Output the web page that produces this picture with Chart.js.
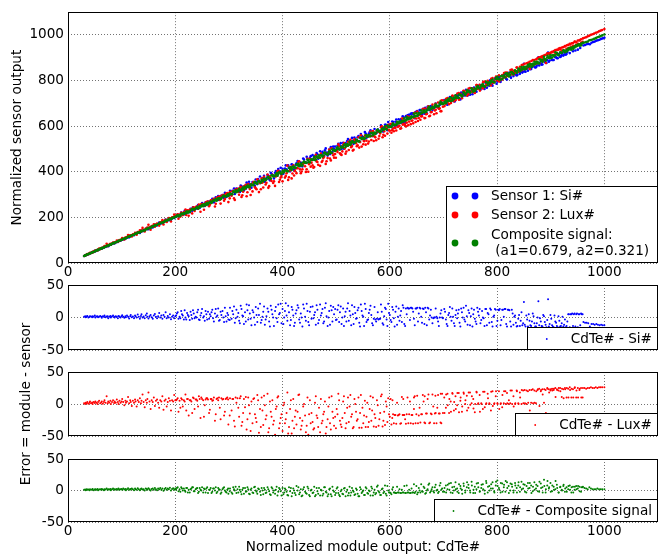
<!DOCTYPE html>
<html>
<head>
<meta charset="utf-8">
<script src="https://cdn.jsdelivr.net/npm/chart.js@4.4.1/dist/chart.umd.min.js"></script>
<style>
html,body{margin:0;padding:0;background:#fff;}
#wrap{position:relative;width:668px;height:559px;}
canvas{position:absolute;left:0;top:0;}
</style>
</head>
<body>
<div id="wrap">
<canvas id="c1" width="668" height="559"></canvas>
<canvas id="c2" width="668" height="559"></canvas>
<canvas id="c3" width="668" height="559"></canvas>
<canvas id="c4" width="668" height="559"></canvas>
</div>
<script>
// ---------- DATA (module output CdTe#, error = sensor - module) ----------
const xTicks = [0, 200, 400, 600, 800, 1000];
const topYTicks = [0, 200, 400, 600, 800, 1000];
const errYTicks = [-50, 0, 50];

const seriesNames = ["Sensor 1: Si#", "Sensor 2: Lux#", "Composite signal:", " (a1=0.679, a2=0.321)"];
const errNames = ["CdTe# - Si#", "CdTe# - Lux#", "CdTe# - Composite signal"];

const errSi = [
[30,1],[32,2],[33,0.5],[35,1.5],[36,2.5],[38,0],[40,1],[41,2],[43,1.5],[45,0.5],[46,2],[48,1],[50,3],[51,0],[53,1.5],[55,2],[56,0.5],[58,1],[60,2.5],[62,1],[63,-0.5],[65,2],[67,1],[68,3],[70,0.5],[72,1.5],[74,2],[75,-1],[77,1],[79,2.5],[80,0],[82,1.5],[84,3],[86,1],[87,0],[89,2],[91,1],[93,-1],[94,2.5],[96,1.5],[98,0],[100,2],[101,3.5],[103,1],[105,-0.5],[107,2],[108,0.5],[110,3],[112,1],[114,-1.5],[116,2],[117,4],[119,0.5],[121,1.5],[123,-1],[125,3],[126,2],[128,0],[130,4.5],[132,1],[134,-2],[136,2.5],[137,5],[139,0],[141,1.5],[143,-1],[145,3.5],[147,6],[148,1],[150,-1.5],[152,2],[154,4],[156,0.5],[158,-2],[160,3],[162,5.5],[164,1],[166,-1],[168,2],[170,7],[172,0],[174,3],[176,-2],[178,4],[180,1],[182,8],[184,-1],[186,2.5],[188,0],[190,5],[192,-2.5],[194,1],[196,3],[198,-1],[200,2],
[203,6],[206,-2],[208,1],[211,10],[214,3],[216,-3],[219,0],[222,7],[225,2],[227,-4],[230,4],[233,11],[236,-1],[238,1],[241,8],[244,-3],[247,3],[250,13],[252,0],[255,-5],[258,5],[261,9],[263,-2],[266,2],[269,12],[272,-6],[274,6],[277,1],[280,14],[283,-4],[286,4],[288,10],[291,-7],[294,2],[297,7],[299,-3],
[302,15],[305,-2],[308,5],[311,-8],[314,12],[316,1],[319,-5],[322,18],[325,3],[328,-10],[330,8],[333,20],[336,-3],[339,6],[342,-12],[344,11],[347,0],[350,16],[353,-7],[356,4],[358,21],[361,-4],[364,9],[367,-11],[370,2],[372,14],[375,-6],[378,18],[381,5],[384,-13],[386,10],[389,-1],[392,20],[395,7],[398,-9],[400,13],[403,0],[406,22],[409,-5],[412,8],[414,-12],[417,16],[420,3],[423,-8],[426,11],[428,19],[431,-3],[434,6],[437,-14],[440,14],[442,1],[445,21],[448,-7],[451,9],[454,-2],[456,17],[459,4],[462,-11],[465,12],[468,-4],[470,20],[473,7],[476,-9],[479,15],[482,2],[484,-13],[487,10],[490,18],[493,-6],[496,5],[498,13],
[501,-3],[504,19],[507,8],[510,-10],[513,14],[516,2],[519,-6],[522,22],[525,10],[528,-12],[531,5],[534,16],[537,-2],[540,11],[543,-8],[546,20],[549,3],[552,-13],[555,13],[558,-4],[561,7],[564,18],[567,-9],[570,-2],[573,-3],[576,-2],[579,-3],[582,-2],[585,9],[588,-11],[591,15],[594,-3],[597,21],[600,4],[603,-7],[606,12],[609,-14],[612,17],[615,1],[618,-5],[621,10],[624,19],[627,-10],[630,14],[633,15],[636,14],[639,15],[642,14],[645,-2],[648,14],[651,15],[654,6],[657,14],[660,-8],[663,13],[666,15],[669,-12],[672,14],[675,3],[678,0],[681,-1],[684,0],[687,1],[690,-6],[693,0],[696,11],[699,-1],
[703,9],[706,-10],[709,4],[712,16],[715,-5],[718,1],[721,-13],[724,11],[727,6],[730,-8],[733,14],[736,0],[739,-3],[742,18],[745,-11],[748,7],[751,2],[754,-14],[757,12],[760,-6],[763,15],[766,3],[769,-9],[772,10],[775,-1],[778,13],[781,-12],[784,5],[787,14],[790,-7],[793,1],[796,13],[799,-13],[802,12],[805,13],[808,-4],[811,12],[814,13],[817,-10],[820,12],[823,11],[826,-14],[829,6],[832,1],[835,-8],[838,-13],[841,4],[844,-5],[847,-12],[850,24],
[853,-14],[856,-3],[859,5],[862,-12],[865,-6],[868,2],[871,-14],[874,-9],[877,25],[880,-1],[883,-13],[886,4],[889,-7],[892,-15],[895,28],[898,-10],[901,-2],[904,-14],[907,3],[910,-8],[913,-15],[916,-5],[919,-13],[922,1],[925,-11],[928,-15],[931,-6],[934,5],[937,5],[940,6],[943,5],[946,-14],[949,6],[952,5],[955,-12],[958,5],[961,-7],[964,-8],[967,-8],[970,-9],[973,-14],[976,-10],[979,-10],[982,-11],[985,-10],[988,-11],[991,-12],[994,-11],[997,-12],[1000,-12]
];
const errSiMore = [
[201.5,3],[204.5,8],[209.5,-1],[212.5,5],[217.5,11],[220.5,-3],[223.5,4],[228.5,9],[231.5,-2],[234.5,6],[239.5,0],[242.5,12],[245.5,-4],[248.5,7],[253.5,2],[256.5,10],[259.5,-3],[264.5,5],[267.5,8],[270.5,-1],[275.5,13],[278.5,3],[281.5,-5],[284.5,9],[289.5,0],[292.5,15],[295.5,-6],[298.5,4],
[301.5,-4],[306.5,10],[309.5,17],[312.5,-1],[317.5,7],[320.5,-9],[323.5,13],[326.5,2],[331.5,-6],[334.5,11],[337.5,19],[340.5,-2],[345.5,8],[348.5,-11],[351.5,4],[354.5,14],[359.5,-8],[362.5,1],[365.5,17],[368.5,-3],[373.5,9],[376.5,-14],[379.5,12],[382.5,0],[387.5,16],[390.5,-7],[393.5,5],[396.5,21],[401.5,-10],[404.5,10],[407.5,3],[410.5,18],[415.5,-4],[418.5,12],[421.5,-13],[424.5,6],[429.5,15],[432.5,-8],[435.5,0],[438.5,20],[443.5,-5],[446.5,10],[449.5,-12],[452.5,16],[457.5,-1],[460.5,8],[463.5,19],[466.5,-9],[471.5,3],[474.5,13],[477.5,-6],[480.5,22],[485.5,0],[488.5,-11],[491.5,11],[494.5,16],[499.5,-4],
[502.5,12],[505.5,-7],[508.5,17],[511.5,0],[514.5,-13],[517.5,9],[520.5,14],[523.5,-5],[526.5,3],[529.5,19],[532.5,-10],[535.5,7],[538.5,-1],[541.5,15],[544.5,-14],[547.5,10],[550.5,1],[553.5,21],[556.5,-7],[559.5,-3],[562.5,12],[565.5,4],[568.5,-12],[571.5,16],[574.5,-6],[577.5,8],[580.5,-2],[583.5,20],[586.5,-9],[589.5,2],[592.5,13],[595.5,-13],[598.5,7],[601.5,-4],[604.5,16],[607.5,-1],[610.5,9],[613.5,-11],[616.5,14],[619.5,3],[622.5,-7],[625.5,15],[628.5,-13],[631.5,5],[634.5,14],[637.5,-4],[640.5,15],[643.5,9],[646.5,-12],[649.5,14],[652.5,-6],[655.5,15],[658.5,1],[661.5,14],[664.5,-10],[667.5,8],[670.5,15],[673.5,-3],[676.5,12],[679.5,-9],[682.5,0],[685.5,14],[688.5,-1],[691.5,-13],[694.5,6],[697.5,0],
[701.5,13],[704.5,-3],[707.5,-13],[710.5,7],[713.5,1],[716.5,14],[719.5,-9],[722.5,4],[725.5,-1],[728.5,12],[731.5,-14],[734.5,8],[737.5,15],[740.5,-6],[743.5,2],[746.5,11],[749.5,-12],[752.5,14],[755.5,5],[758.5,-2],[761.5,-10],[764.5,9],[767.5,13],[770.5,-4],[773.5,0],[776.5,-13],[779.5,13],[782.5,7],[785.5,-8],[788.5,12],[791.5,-14],[794.5,3],[797.5,12],[800.5,-5],[803.5,11],[806.5,-12],[809.5,12],[812.5,1],[815.5,13],[818.5,-14],[821.5,12],[824.5,-6],[827.5,12],[830.5,-11],[833.5,3],[836.5,-14],[839.5,-2],[842.5,-13],[845.5,8],[848.5,-9],
[851.5,-11],[854.5,3],[857.5,-14],[860.5,-5],[863.5,-13],[866.5,6],[869.5,-9],[872.5,-14],[875.5,0],[878.5,-12],[881.5,-6],[884.5,-14],[887.5,2],[890.5,-11],[893.5,-4],[896.5,-14],[899.5,4],[902.5,-12],[905.5,-15],[908.5,-6],[911.5,-13],[914.5,2],[917.5,-14],[920.5,-9],[923.5,-14],[926.5,-3],[929.5,-13],[932.5,5],[935.5,-15],[938.5,5],[941.5,-13],[944.5,6],[947.5,5],[950.5,-15],[953.5,5],[956.5,6],[959.5,5]
];

const errLux = [
[30,1],[32,0],[33,2],[35,1],[36,3],[38,0.5],[40,2],[41,4],[43,1],[45,2.5],[46,0],[48,3],[50,1.5],[51,4],[53,2],[55,0],[56,3],[58,5],[60,1],[62,2.5],[63,4],[65,0.5],[67,3],[68,6],[70,2],[72,12],[74,1],[75,4],[77,2.5],[79,5],[80,0],[82,3],[84,6],[86,1.5],[87,4],[89,2],[91,7],[93,3],[94,0],[96,5],[98,2],[100,4],[101,8],[103,3],[105,-2],[107,5],[108,2],[110,4],[112,11],[114,1],[116,6],[117,3],[119,-3],[121,5],[123,2],[125,7],[126,4],[128,-4],[130,6],[132,3],[134,9],[136,1],[137,5],[139,15],[141,3],[143,-5],[145,6],[147,2],[148,8],[150,18],[152,4],[154,-8],[156,6],[158,3],[160,10],[162,-3],[164,5],[166,7],[168,2],[170,-6],[172,6],[174,4],[176,12],[178,-9],[180,5],[182,7],[184,-4],[186,3],[188,9],[190,5],[192,-10],[194,6],[196,4],[198,14],[200,6],
[203,7],[206,-12],[208,5],[211,9],[214,-4],[216,6],[219,15],[222,8],[225,-18],[227,6],[230,4],[233,10],[236,-8],[238,7],[241,5],[244,12],[247,-22],[250,8],[252,6],[255,-2],[258,9],[261,7],[263,-14],[266,8],[269,5],[272,10],[274,-26],[277,8],[280,6],[283,-6],[286,9],[288,7],[291,-18],[294,8],[297,10],[299,-32],
[302,9],[305,-10],[308,8],[311,-35],[314,2],[316,9],[319,-20],[322,12],[325,-28],[328,8],[330,-5],[333,-40],[336,10],[339,-15],[342,4],[344,-30],[347,9],[350,-22],[353,14],[356,-45],[358,-8],[361,10],[364,-33],[367,-2],[370,-18],[372,16],[375,-38],[378,-12],[381,6],[384,-26],[386,-48],[389,-4],[392,12],[395,-30],[398,-16],[400,-42],[403,2],[406,-24],[409,18],[412,-36],[414,-8],[417,-46],[420,8],[423,-20],[426,-32],[428,-12],[431,15],[434,-40],[437,-26],[440,0],[442,-18],[445,-34],[448,-48],[451,6],[454,-14],[456,-28],[459,-38],[462,12],[465,-22],[468,-6],[470,-44],[473,-30],[476,-16],[479,4],[482,-36],[484,-24],[487,10],[490,-40],[493,-12],[496,-34],[498,-20],
[501,-8],[504,16],[507,-26],[510,-36],[513,4],[516,-14],[519,-30],[522,10],[525,-4],[528,-20],[531,-38],[534,8],[537,-12],[540,-24],[543,-37],[546,14],[549,-6],[552,-18],[555,-36],[558,2],[561,-28],[564,12],[567,-10],[570,-35],[573,-22],[576,6],[579,-34],[582,-14],[585,15],[588,-26],[591,-33],[594,-4],[597,9],[600,-20],[603,-32],[605,6],[606,-16],[609,-17],[612,-31],[615,-18],[618,-16],[621,-30],[624,-17],[625,8],[627,-17],[630,-31],[633,10],[636,-16],[639,-30],[642,-17],[645,-8],[645,10],[648,-30],[651,13],[654,-18],[657,-29],[660,-16],[663,4],[665,12],[666,-30],[669,-15],[672,15],[675,-29],[678,-16],[681,-4],[684,-15],[685,13],[687,-30],[690,14],[693,-15],[695,16],[696,-30],[699,-14],
[702,-14],[705,15],[708,-2],[711,8],[714,-12],[717,16],[720,3],[723,-8],[726,17],[729,-13],[732,10],[735,-4],[738,16],[741,6],[744,-10],[747,18],[750,-1],[753,12],[756,-7],[759,0],[762,18],[765,1],[768,-12],[771,0],[774,19],[777,-5],[780,1],[783,9],[786,0],[789,19],[792,-3],[795,1],[798,20],[801,0],[804,-8],[807,1],[810,14],[813,20],[816,0],[819,1],[822,6],[825,21],[828,0],[831,-4],[834,1],[837,20],[840,0],[843,10],[846,22],[849,1],
[852,1],[855,21],[858,2],[861,-10],[864,22],[867,1],[870,2],[873,20],[876,23],[879,-3],[882,22],[885,15],[888,23],[891,-14],[894,24],[897,18],[900,23],[903,21],[906,24],[909,11],[912,22],[915,25],[918,20],[921,24],[924,9],[927,23],[930,25],[933,10],[936,22],[939,24],[942,10],[945,26],[948,21],[951,10],[954,24],[957,10],[960,25],[963,25],[966,24],[969,25],[972,25],[975,26],[978,25],[981,25],[984,26],[987,25],[990,26],[993,26],[996,26],[1000,26]
];
const errLuxMore = [
[201.5,6],[204.5,9],[209.5,-6],[212.5,7],[217.5,4],[220.5,-10],[223.5,8],[228.5,6],[231.5,-14],[234.5,9],[239.5,7],[242.5,-4],[245.5,8],[248.5,10],[253.5,-20],[256.5,7],[259.5,9],[264.5,-9],[267.5,8],[270.5,6],[275.5,-16],[278.5,9],[281.5,10],[284.5,-24],[289.5,8],[292.5,-12],[295.5,9],[298.5,7],
[301.5,-18],[306.5,8],[309.5,-26],[312.5,10],[317.5,-6],[320.5,9],[323.5,-34],[326.5,-14],[331.5,11],[334.5,-24],[337.5,-2],[340.5,-42],[345.5,8],[348.5,-16],[351.5,-28],[354.5,6],[359.5,-36],[362.5,-10],[365.5,13],[368.5,-24],[373.5,-44],[376.5,4],[379.5,-20],[382.5,-32],[387.5,-8],[390.5,10],[393.5,-38],[396.5,-22],[401.5,-2],[404.5,-30],[407.5,-14],[410.5,-46],[415.5,6],[418.5,-26],[421.5,-38],[424.5,-10],[429.5,14],[432.5,-22],[435.5,-34],[438.5,-4],[443.5,-44],[446.5,10],[449.5,-16],[452.5,-30],[457.5,-40],[460.5,2],[463.5,-18],[466.5,-36],[471.5,8],[474.5,-26],[477.5,-12],[480.5,-46],[485.5,-4],[488.5,-30],[491.5,12],[494.5,-22],[499.5,-38],
[502.5,-16],[505.5,6],[508.5,-32],[511.5,-22],[514.5,12],[517.5,-38],[520.5,-6],[523.5,-28],[526.5,14],[529.5,-16],[532.5,-36],[535.5,0],[538.5,-26],[541.5,10],[544.5,-14],[547.5,-37],[550.5,-30],[553.5,5],[556.5,-20],[559.5,-36],[562.5,-8],[565.5,-26],[568.5,10],[571.5,-16],[574.5,-36],[577.5,-2],[580.5,-24],[583.5,12],[586.5,-35],[589.5,-12],[592.5,4],[595.5,-28],[598.5,-16],[601.5,8],[604.5,-22],[607.5,-30],[610.5,-17],[613.5,2],[616.5,-17],[619.5,-31],[622.5,11],[625.5,-17],[628.5,-24],[631.5,-16],[634.5,-30],[637.5,4],[640.5,-17],[643.5,-31],[646.5,12],[649.5,-16],[652.5,-30],[655.5,-6],[658.5,-16],[661.5,14],[664.5,-29],[667.5,-15],[670.5,8],[673.5,-30],[676.5,-15],[679.5,15],[682.5,-30],[685.5,-14],[688.5,-6],[691.5,-15],[694.5,-29],[697.5,16],
[701.5,10],[704.5,-6],[707.5,16],[710.5,-14],[713.5,4],[716.5,17],[719.5,-10],[722.5,12],[725.5,-2],[728.5,17],[731.5,5],[734.5,-12],[737.5,18],[740.5,0],[743.5,13],[746.5,-6],[749.5,18],[752.5,1],[755.5,8],[758.5,-13],[761.5,19],[764.5,0],[767.5,14],[770.5,1],[773.5,-8],[776.5,19],[779.5,0],[782.5,16],[785.5,1],[788.5,-10],[791.5,20],[794.5,0],[797.5,12],[800.5,1],[803.5,20],[806.5,0],[809.5,-5],[812.5,1],[815.5,20],[818.5,17],[821.5,0],[824.5,1],[827.5,21],[830.5,12],[833.5,0],[836.5,21],[839.5,1],[842.5,18],[845.5,0],[848.5,21],
[851.5,22],[854.5,0],[857.5,20],[860.5,22],[863.5,2],[866.5,23],[869.5,21],[872.5,1],[875.5,22],[878.5,24],[881.5,20],[884.5,23],[887.5,2],[890.5,22],[893.5,25],[896.5,23],[899.5,21],[902.5,24],[905.5,22],[908.5,25],[911.5,23],[914.5,21],[917.5,25],[920.5,11],[923.5,23],[926.5,25],[929.5,10],[932.5,24],[935.5,26],[938.5,10],[941.5,23],[944.5,25],[947.5,10],[950.5,25],[953.5,22],[956.5,25],[959.5,10]
];

const errComp = [
[30,1],[32,1.5],[33,0.5],[35,2],[36,1],[38,1.5],[40,0.5],[41,2],[43,1],[45,1.5],[46,2.5],[48,0.5],[50,1.5],[51,2],[53,1],[55,2.5],[56,0.5],[58,1.5],[60,2],[62,1],[63,2.5],[65,1.5],[67,0.5],[68,2],[70,1.5],[72,3],[74,1],[75,2],[77,1.5],[79,2.5],[80,0.5],[82,2],[84,3],[86,1],[87,2],[89,1.5],[91,2.5],[93,1],[94,3],[96,1.5],[98,2],[100,2.5],[101,1],[103,3],[105,1.5],[107,2.5],[108,0.5],[110,2],[112,3.5],[114,1],[116,2.5],[117,1.5],[119,3],[121,2],[123,0.5],[125,3],[126,2],[128,1],[130,3.5],[132,2],[134,0.5],[136,2.5],[137,3],[139,1.5],[141,2],[143,0],[145,3],[147,2.5],[148,1],[150,3.5],[152,2],[154,0],[156,2.5],[158,3],[160,1],[162,4],[164,2],[166,0.5],[168,3],[170,2],[172,4],[174,1],[176,3],[178,-0.5],[180,2.5],[182,4],[184,1],[186,3],[188,2],[190,4.5],[192,0],[194,2.5],[196,3.5],[198,1],[200,3],
[203,4],[206,-1],[208,2],[211,5],[214,0],[216,3],[219,-2],[222,4],[225,1],[227,-3],[230,3],[233,5],[236,-1],[238,2],[241,4],[244,-2],[247,1],[250,5],[252,-3],[255,2],[258,3],[261,-4],[263,1],[266,4],[269,-2],[272,3],[274,0],[277,-4],[280,4],[283,1],[286,-3],[288,2],[291,5],[294,-2],[297,1],[299,-5],[302,3],[305,-3],[308,5],[311,0],[314,-4],[316,2],[319,6],[322,-2],[325,1],[328,-5],[330,4],[333,-1],[336,2],[339,-6],[342,3],[344,-3],[347,5],[350,0],[353,-5],[356,2],[358,-2],[361,4],[364,-6],[367,1],[370,-3],[372,5],[375,-1],[378,-7],[381,3],[384,0],[386,-5],[389,6],[392,-2],[395,2],[398,-8],[400,4],
[403,-3],[406,1],[409,-7],[412,5],[414,-1],[417,-9],[420,3],[423,-4],[426,7],[428,0],[431,-6],[434,2],[437,-8],[440,5],[442,-2],[445,-5],[448,3],[451,-9],[454,1],[456,-4],[459,6],[462,-7],[465,-1],[468,4],[470,-8],[473,0],[476,-5],[479,5],[482,-3],[484,-9],[487,2],[490,-6],[493,6],[496,-2],[498,-7],[501,3],[504,-4],[507,-9],[510,1],[513,-6],[516,4],[519,-2],[522,-8],[525,6],[528,-3],[531,0],[534,-7],[537,3],[540,-5],[543,-9],[546,2],[549,-2],[552,-7],[555,5],[558,-4],[561,0],[564,-8],[567,3],[570,-3],[573,-6],[576,6],[579,-1],[582,-7],[585,2],[588,-4],[591,8],[594,-8],[597,0],[600,-3],[603,-6],[606,5],[609,-3],[612,-4],[615,-3],[618,2],[621,-4],[624,-3],[627,7],[630,-4],[633,-3],[636,1],[639,-4],[642,-3],[645,10],[648,-2],[651,-6],[654,4],[657,-3],[660,-1],[663,6],[666,-5],[669,0],[672,9],[675,-3],[678,2],[681,-1],[684,5],[687,0],[690,-4],[693,8],[696,1],[699,-2],
[702,4],[705,-3],[708,9],[711,1],[714,12],[717,-4],[720,6],[723,2],[726,-2],[729,10],[732,3],[735,-5],[738,7],[741,0],[744,13],[747,4],[750,-3],[753,8],[756,1],[759,-4],[762,11],[765,5],[768,-1],[771,9],[774,2],[777,-5],[780,12],[783,6],[786,0],[789,10],[792,3],[795,-3],[798,14],[801,7],[804,1],[807,12],[810,-2],[813,9],[816,15],[819,4],[822,-4],[825,11],[828,6],[831,0],[834,8],[837,-3],[840,13],[843,5],[846,2],[849,10],[852,-2],[855,7],[858,3],[861,12],[864,-4],[867,6],[870,1],[873,9],[876,-1],[879,14],[882,4],[885,-3],[888,7],[891,2],[894,15],[897,5],[900,-2],[903,8],[906,1],[909,15],[912,4],[915,-3],[918,6],[921,0],[924,9],[927,3],[930,-2],[933,7],[936,1],[939,5],[942,-3],[945,6],[948,2],[951,7],[954,-1],[957,5],[960,6],[963,4],[966,3],[969,2],[972,5],[975,3],[978,2],[981,2],[984,2],[987,3],[990,2],[993,2],[996,2],[1000,2]
];
const errCompMore = [
[201.5,1],[204.5,5],[209.5,-2],[212.5,3],[217.5,0],[220.5,4],[223.5,-3],[228.5,2],[231.5,5],[234.5,-1],[239.5,3],[242.5,-4],[245.5,4],[248.5,0],[253.5,3],[256.5,-3],[259.5,5],[264.5,1],[267.5,-4],[270.5,3],[275.5,5],[278.5,-2],[281.5,2],[284.5,-5],[289.5,4],[292.5,0],[295.5,-3],[298.5,3],[301.5,-1],[306.5,-5],[309.5,2],[312.5,6],[317.5,-3],[320.5,1],[323.5,-6],[326.5,4],[331.5,-2],[334.5,5],[337.5,-5],[340.5,1],[345.5,-4],[348.5,6],[351.5,-2],[354.5,3],[359.5,-7],[362.5,0],[365.5,4],[368.5,-4],[373.5,2],[376.5,-6],[379.5,5],[382.5,-3],[387.5,1],[390.5,-8],[393.5,4],[396.5,-1],
[401.5,-6],[404.5,3],[407.5,-2],[410.5,-8],[415.5,4],[418.5,-4],[421.5,0],[424.5,-7],[429.5,5],[432.5,-3],[435.5,-9],[438.5,2],[443.5,-4],[446.5,6],[449.5,-7],[452.5,0],[457.5,-3],[460.5,-9],[463.5,4],[466.5,-5],[471.5,1],[474.5,-8],[477.5,5],[480.5,-2],[485.5,-6],[488.5,3],[491.5,-9],[494.5,0],[499.5,-4],[502.5,5],[505.5,-7],[508.5,-1],[511.5,-5],[514.5,3],[517.5,-9],[520.5,1],[523.5,-4],[526.5,-8],[529.5,4],[532.5,-2],[535.5,-6],[538.5,1],[541.5,-9],[544.5,5],[547.5,-4],[550.5,0],[553.5,-7],[556.5,3],[559.5,-5],[562.5,-1],[565.5,6],[568.5,-8],[571.5,1],[574.5,-4],[577.5,8],[580.5,-3],[583.5,-7],[586.5,3],[589.5,-2],[592.5,-5],[595.5,7],[598.5,-3],[601.5,-4],[604.5,2],[607.5,-3],[610.5,-4],[613.5,6],[616.5,-3],[619.5,-4],[622.5,1],[625.5,-3],[628.5,-4],[631.5,8],[634.5,-3],[637.5,-4],[640.5,3],[643.5,-3],[646.5,-4],[649.5,7],[652.5,-3],[655.5,0],[658.5,10],[661.5,-2],[664.5,4],[667.5,-4],[670.5,2],[673.5,11],[676.5,-1],[679.5,5],[682.5,-3],[685.5,9],[688.5,1],[691.5,-2],[694.5,12],[697.5,3],
[701.5,-2],[704.5,8],[707.5,2],[710.5,11],[713.5,-3],[716.5,5],[719.5,0],[722.5,13],[725.5,3],[728.5,-4],[731.5,7],[734.5,1],[737.5,11],[740.5,-3],[743.5,5],[746.5,9],[749.5,0],[752.5,14],[755.5,-4],[758.5,6],[761.5,2],[764.5,12],[767.5,-2],[770.5,4],[773.5,10],[776.5,0],[779.5,15],[782.5,-3],[785.5,7],[788.5,3],[791.5,13],[794.5,-1],[797.5,8],[800.5,16],[803.5,4],[806.5,-3],[809.5,11],[812.5,5],[815.5,-2],[818.5,13],[821.5,7],[824.5,0],[827.5,10],[830.5,-3],[833.5,12],[836.5,4],[839.5,8],[842.5,-2],[845.5,14],[848.5,3],[851.5,9],[854.5,-3],[857.5,12],[860.5,4],[863.5,8],[866.5,-1],[869.5,13],[872.5,3],[875.5,7],[878.5,-2],[881.5,11],[884.5,5],[887.5,17],[890.5,-3],[893.5,8],[896.5,3],[899.5,12],[902.5,-1],[905.5,6],[908.5,2],[911.5,9],[914.5,-3],[917.5,5],[920.5,1],[923.5,7],[926.5,-2],[929.5,5],[932.5,2],[935.5,8],[938.5,-3],[941.5,6],[944.5,1],[947.5,7],[950.5,3],[953.5,6],[956.5,-2],[959.5,5]
];

// ---------- STYLE ----------
const FONT = "'DejaVu Sans', 'Bitstream Vera Sans', sans-serif";
const FS = 13.6;
const BLUE = '#0000ff', RED = '#ff0000', GREEN = '#008000';
const W = 668, H = 559, LEFT = 68, RIGHT_PAD = 10;
Chart.defaults.font.family = FONT;
Chart.defaults.font.size = FS;
Chart.defaults.color = '#000';

const allSi = errSi.concat(errSiMore);
const allLux = errLux.concat(errLuxMore);
const allComp = errComp.concat(errCompMore);
const toSensor = arr => arr.map(p => ({x: p[0], y: p[0] + p[1]}));
const toErr = arr => arr.map(p => ({x: p[0], y: p[1]}));

const framePlugin = {
  id: 'frame',
  afterDraw(chart) {
    const a = chart.chartArea, ctx = chart.ctx;
    ctx.save();
    ctx.strokeStyle = '#000';
    ctx.lineWidth = 1;
    ctx.strokeRect(Math.round(a.left) + 0.5, Math.round(a.top) + 0.5,
                   Math.round(a.right - a.left) - 1, Math.round(a.bottom - a.top) - 1);
    ctx.restore();
  }
};

function topLegendPlugin() {
  return {
    id: 'topLegend',
    afterDraw(chart) {
      const a = chart.chartArea, ctx = chart.ctx;
      const r = Math.round(a.right), b = Math.round(a.bottom);
      const l = r - 212, t = b - 77;
      ctx.save();
      ctx.fillStyle = '#fff';
      ctx.fillRect(l, t, r - l, b - t);
      ctx.strokeStyle = '#000'; ctx.lineWidth = 1;
      ctx.strokeRect(l + 0.5, t + 0.5, r - l - 1, b - t - 1);
      const rows = [[BLUE, t + 10], [RED, t + 29], [GREEN, t + 57]];
      rows.forEach(([c, y]) => {
        ctx.fillStyle = c;
        [l + 9, l + 29].forEach(x => { ctx.beginPath(); ctx.arc(x, y, 3.4, 0, Math.PI * 2); ctx.fill(); });
      });
      ctx.fillStyle = '#000';
      ctx.font = FS + 'px ' + FONT;
      ctx.textBaseline = 'middle'; ctx.textAlign = 'left';
      ctx.fillText(seriesNames[0], l + 45, t + 10);
      ctx.fillText(seriesNames[1], l + 45, t + 29);
      ctx.fillText(seriesNames[2], l + 45, t + 49);
      ctx.fillText(seriesNames[3], l + 45, t + 65);
      ctx.restore();
    }
  };
}

function errLegendPlugin(label, color) {
  return {
    id: 'errLegend',
    afterDraw(chart) {
      const a = chart.chartArea, ctx = chart.ctx;
      const r = Math.round(a.right), b = Math.round(a.bottom);
      ctx.save();
      ctx.font = FS + 'px ' + FONT;
      const tw = ctx.measureText(label).width;
      const tx = r - 6 - tw;
      const l = Math.round(tx - 44), t = b - 23;
      ctx.fillStyle = '#fff';
      ctx.fillRect(l, t, r - l, b - t);
      ctx.strokeStyle = '#000'; ctx.lineWidth = 1;
      ctx.strokeRect(l + 0.5, t + 0.5, r - l - 1, b - t - 1);
      ctx.fillStyle = color;
      ctx.beginPath(); ctx.arc(tx - 24, t + 12, 0.9, 0, Math.PI * 2); ctx.fill();
      ctx.fillStyle = '#000';
      ctx.textBaseline = 'middle'; ctx.textAlign = 'left';
      ctx.fillText(label, tx, t + 12);
      ctx.restore();
    }
  };
}

function makeChart(id, o) {
  return new Chart(document.getElementById(id), {
    type: 'scatter',
    data: { datasets: o.datasets },
    plugins: [framePlugin, o.legend],
    options: {
      responsive: false,
      animation: false,
      devicePixelRatio: 1,
      layout: { padding: { top: o.top, left: 0, right: RIGHT_PAD, bottom: 0 } },
      plugins: { legend: { display: false }, tooltip: { enabled: false } },
      elements: { point: { borderWidth: 0 } },
      scales: {
        x: {
          type: 'linear', min: 0, max: 1100,
          afterBuildTicks: s => { s.ticks = xTicks.map(v => ({ value: v })); },
          afterFit: s => { s.height = H - o.bottom; },
          ticks: { display: o.showX, padding: 1, maxRotation: 0, autoSkip: false, font: { size: FS }, callback: v => String(v) },
          grid: { color: 'rgba(0,0,0,0.55)', lineWidth: 1, drawTicks: false },
          border: { display: false, dash: [1, 2] },
          title: o.xTitle ? { display: true, text: o.xTitle, padding: { top: 0, bottom: 3 }, font: { size: FS } } : { display: false }
        },
        y: {
          type: 'linear', min: o.yMin, max: o.yMax,
          afterBuildTicks: s => { s.ticks = o.yTicks.map(v => ({ value: v })); },
          afterFit: s => { s.width = LEFT; },
          ticks: { padding: 4, autoSkip: false, font: { size: FS }, callback: v => String(v) },
          grid: { color: 'rgba(0,0,0,0.55)', lineWidth: 1, drawTicks: false },
          border: { display: false, dash: [1, 2] },
          title: o.yTitle ? { display: true, text: o.yTitle, padding: { top: o.yTitlePad, bottom: 0 }, font: { size: FS } } : { display: false }
        }
      }
    }
  });
}

makeChart('c1', {
  top: 6, bottom: 263, yMin: 0, yMax: 1100, yTicks: topYTicks, showX: true,
  yTitle: 'Normalized sensor output', yTitlePad: 9,
  legend: topLegendPlugin(),
  datasets: [
    { label: seriesNames[0], data: toSensor(allSi), backgroundColor: BLUE, pointRadius: 1.3, order: 3 },
    { label: seriesNames[1], data: toSensor(allLux), backgroundColor: RED, pointRadius: 1.3, order: 2 },
    { label: seriesNames[2], data: toSensor(allComp), backgroundColor: GREEN, pointRadius: 1.3, order: 1 }
  ]
});
makeChart('c2', {
  top: 285, bottom: 350, yMin: -50, yMax: 50, yTicks: errYTicks, showX: false,
  legend: errLegendPlugin(errNames[0], BLUE),
  datasets: [{ label: errNames[0], data: toErr(allSi), backgroundColor: BLUE, pointRadius: 1 }]
});
makeChart('c3', {
  top: 372, bottom: 436, yMin: -50, yMax: 50, yTicks: errYTicks, showX: false,
  yTitle: 'Error = module - sensor', yTitlePad: 18,
  legend: errLegendPlugin(errNames[1], RED),
  datasets: [{ label: errNames[1], data: toErr(allLux), backgroundColor: RED, pointRadius: 1 }]
});
makeChart('c4', {
  top: 459, bottom: 522, yMin: -50, yMax: 50, yTicks: errYTicks, showX: true,
  xTitle: 'Normalized module output: CdTe#',
  legend: errLegendPlugin(errNames[2], GREEN),
  datasets: [{ label: errNames[2], data: toErr(allComp), backgroundColor: GREEN, pointRadius: 1 }]
});
</script>
</body>
</html>
